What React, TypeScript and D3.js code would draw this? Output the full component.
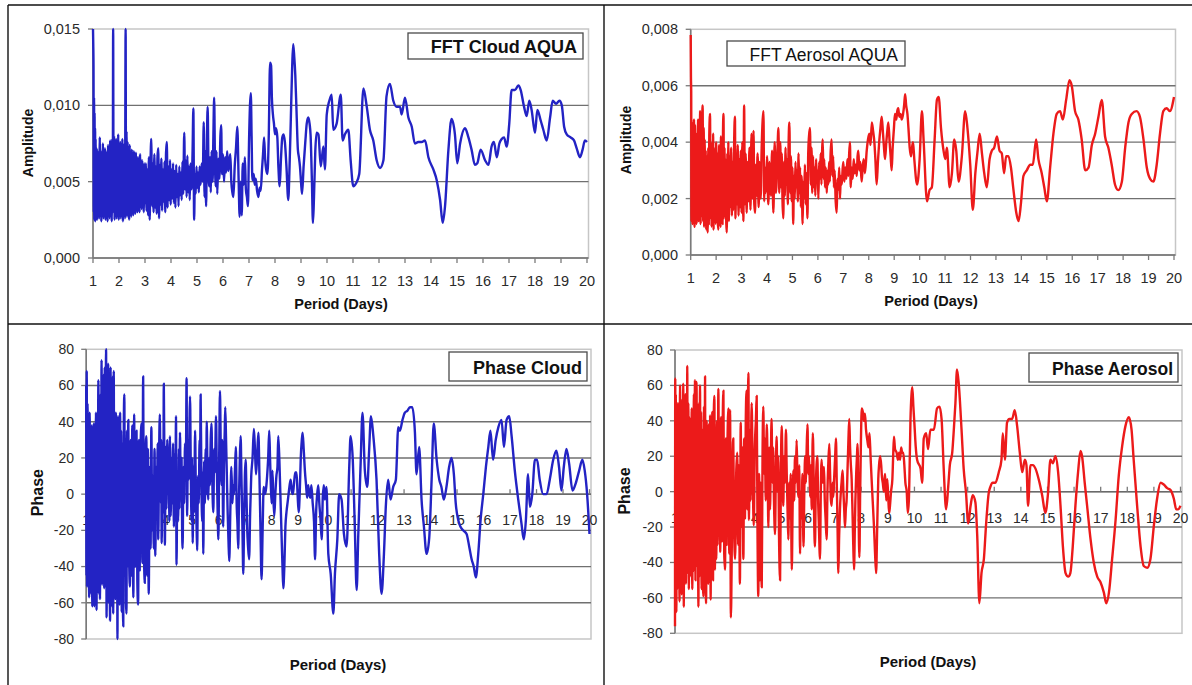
import React from "react";
import * as d3 from "d3";

type Pt = [number, number];

const periodTicks = [1, 2, 3, 4, 5, 6, 7, 8, 9, 10, 11, 12, 13, 14, 15, 16, 17, 18, 19, 20];
const cloudAmpTicks = [0, 0.005, 0.01, 0.015];
const aerosolAmpTicks = [0, 0.002, 0.004, 0.006, 0.008];
const phaseTicks = [-80, -60, -40, -20, 0, 20, 40, 60, 80];

// FFT amplitude, cloud (period in days, amplitude)
const cloudAmp: Pt[] = [
  [1, .015], [1.01, .014], [1.02, .0125], [1.03, .003], [1.04, .0105], [1.05, .0025], [1.06, .0095], [1.07, .003], [1.08, .0085], [1.09, .0024],
  [1.1, .0078], [1.12, .0028], [1.14, .0072], [1.16, .0025], [1.18, .007], [1.2, .003], [1.22, .0068], [1.24, .0026], [1.26, .0079], [1.28, .0031],
  [1.3, .0066], [1.32, .0024], [1.34, .007], [1.36, .0028], [1.38, .0075], [1.4, .0026], [1.42, .0068], [1.44, .0032], [1.46, .0072], [1.48, .0025],
  [1.5, .0066], [1.52, .0029], [1.54, .007], [1.56, .0024], [1.58, .0074], [1.6, .003], [1.62, .0068], [1.64, .0026], [1.66, .0077], [1.68, .0028],
  [1.7, .0072], [1.72, .0024], [1.74, .0078], [1.76, .003], [1.775, .015], [1.79, .0035], [1.81, .008], [1.83, .0025], [1.85, .0074], [1.87, .003],
  [1.89, .0078], [1.91, .0026], [1.93, .0072], [1.95, .0029], [1.97, .0081], [1.99, .0025], [2.01, .007], [2.03, .0031], [2.05, .0076], [2.07, .0026],
  [2.09, .0073], [2.11, .0028], [2.13, .0078], [2.15, .0024], [2.17, .007], [2.19, .003], [2.21, .0075], [2.23, .0026], [2.255, .015], [2.27, .003],
  [2.29, .0083], [2.31, .0027], [2.33, .0076], [2.35, .003], [2.37, .0072], [2.39, .0025], [2.41, .0074], [2.43, .0031], [2.45, .0068], [2.47, .0027],
  [2.49, .0071], [2.51, .0032], [2.53, .0067], [2.55, .0028], [2.57, .007], [2.59, .0033], [2.61, .0064], [2.63, .0029], [2.65, .0069], [2.67, .0034],
  [2.69, .0063], [2.71, .003], [2.73, .0066], [2.75, .0035], [2.77, .0062], [2.79, .003], [2.81, .0068], [2.83, .0036], [2.85, .006], [2.87, .0032],
  [2.89, .0064], [2.91, .0037], [2.93, .0058], [2.95, .003], [2.97, .0062], [3, .0036], [3.03, .0062], [3.06, .0031], [3.09, .0058], [3.12, .0028],
  [3.15, .0066], [3.18, .0025], [3.21, .006], [3.24, .0078], [3.27, .0034], [3.3, .0062], [3.33, .003], [3.36, .0068], [3.39, .0033], [3.42, .006],
  [3.45, .0029], [3.48, .0066], [3.51, .0072], [3.54, .0026], [3.57, .0061], [3.6, .0035], [3.63, .0065], [3.66, .0031], [3.69, .0058], [3.72, .0037],
  [3.75, .0063], [3.78, .003], [3.81, .0069], [3.84, .0076], [3.87, .0033], [3.9, .006], [3.93, .0038], [3.96, .0064], [3.99, .0035], [4.02, .0058],
  [4.05, .0039], [4.08, .0062], [4.11, .0036], [4.14, .0057], [4.17, .0033], [4.2, .0061], [4.23, .004], [4.26, .0055], [4.29, .0034], [4.32, .006],
  [4.35, .0041], [4.38, .0056], [4.41, .0038], [4.44, .0063], [4.47, .0042], [4.51, .0082], [4.54, .0045], [4.57, .0064], [4.6, .004], [4.63, .0067],
  [4.66, .0043], [4.69, .006], [4.72, .0038], [4.75, .0062], [4.79, .0045], [4.83, .007], [4.86, .0098], [4.89, .0025], [4.92, .0055], [4.95, .0042],
  [4.98, .006], [5.01, .0046], [5.04, .0056], [5.07, .0043], [5.1, .006], [5.14, .0048], [5.18, .0062], [5.22, .005], [5.26, .0089], [5.29, .004],
  [5.32, .007], [5.35, .0034], [5.38, .0075], [5.41, .0099], [5.44, .006], [5.47, .0047], [5.5, .0066], [5.53, .0043], [5.56, .007], [5.6, .005],
  [5.63, .008], [5.66, .0105], [5.69, .0065], [5.72, .0047], [5.75, .007], [5.78, .0042], [5.82, .0065], [5.86, .0052], [5.9, .008], [5.93, .0087],
  [5.96, .0055], [6, .0068], [6.04, .005], [6.08, .0066], [6.12, .0056], [6.16, .007], [6.2, .0057], [6.24, .0062], [6.28, .0068], [6.32, .005],
  [6.36, .0043], [6.4, .004], [6.45, .006], [6.5, .0072], [6.55, .0086], [6.6, .0052], [6.64, .0027], [6.68, .005], [6.72, .0028], [6.76, .0062],
  [6.8, .0048], [6.84, .0066], [6.88, .0045], [6.92, .004], [6.96, .0034], [7, .0075], [7.07, .0108], [7.1, .008], [7.13, .0051], [7.18, .0055],
  [7.22, .0048], [7.26, .0052], [7.31, .0044], [7.36, .004], [7.41, .0046], [7.45, .0044], [7.5, .0058], [7.54, .0068], [7.58, .0079], [7.62, .0065],
  [7.66, .0058], [7.71, .0055], [7.76, .008], [7.81, .0128], [7.85, .0126], [7.88, .0105], [7.92, .0094], [7.96, .0088], [8, .0081], [8.04, .0085],
  [8.09, .0079], [8.13, .006], [8.18, .0047], [8.23, .0065], [8.28, .0079], [8.33, .0081], [8.38, .0076], [8.44, .006], [8.51, .0038], [8.56, .006],
  [8.61, .0092], [8.66, .0125], [8.7, .014], [8.74, .0132], [8.78, .012], [8.83, .0095], [8.88, .0071], [8.92, .0066], [8.96, .006], [9, .005],
  [9.04, .0042], [9.1, .006], [9.17, .0077], [9.22, .0088], [9.28, .0092], [9.33, .0088], [9.37, .008], [9.42, .005], [9.46, .0023], [9.5, .004],
  [9.55, .007], [9.6, .0082], [9.67, .0081], [9.76, .006], [9.86, .0073], [9.92, .0058], [9.99, .0094], [10.09, .0103], [10.18, .0107], [10.24, .0084],
  [10.37, .0088], [10.53, .0107], [10.6, .0077], [10.69, .0081], [10.82, .0084], [10.91, .0064], [11.01, .0047], [11.12, .0049], [11.24, .0055], [11.4, .0111],
  [11.53, .0099], [11.65, .0084], [11.78, .0077], [11.91, .0064], [12.04, .0059], [12.17, .0064], [12.29, .0106], [12.42, .0114], [12.55, .0103], [12.68, .0099],
  [12.81, .0099], [12.87, .0094], [13, .0105], [13.13, .0092], [13.26, .0086], [13.38, .0075], [13.51, .0076], [13.64, .0076], [13.77, .0077], [13.9, .0066],
  [14.09, .0058], [14.22, .0051], [14.35, .0038], [14.45, .0023], [14.54, .0034], [14.67, .0071], [14.79, .0091], [14.92, .0081], [15.01, .0062], [15.12, .0075],
  [15.31, .0085], [15.44, .0079], [15.56, .0071], [15.69, .0061], [15.78, .0062], [15.91, .0071], [16.08, .0064], [16.21, .0061], [16.33, .0073], [16.42, .0076],
  [16.53, .0066], [16.63, .0075], [16.72, .0078], [16.81, .0079], [16.91, .0073], [17.01, .0088], [17.1, .011], [17.23, .011], [17.36, .0113], [17.45, .011],
  [17.58, .0099], [17.68, .0093], [17.78, .0103], [17.87, .0097], [18, .0082], [18.09, .0097], [18.22, .009], [18.32, .0084], [18.45, .0077], [18.58, .0092],
  [18.68, .0103], [18.81, .0101], [18.94, .0103], [19.03, .01], [19.12, .0086], [19.22, .0081], [19.37, .0079], [19.5, .0077], [19.6, .0072], [19.73, .0066],
  [19.83, .0071], [19.92, .0077], [20, .0076],
];

// FFT amplitude, aerosol
const aerosolAmp: Pt[] = [
  [1, .0078], [1.01, .0063], [1.02, .0058], [1.03, .0012], [1.05, .0047], [1.07, .0011], [1.09, .0045], [1.11, .0013], [1.13, .0048], [1.15, .001],
  [1.17, .0046], [1.19, .0014], [1.21, .0043], [1.23, .0011], [1.25, .004], [1.27, .0015], [1.29, .0048], [1.31, .0012], [1.33, .0044], [1.35, .0016],
  [1.37, .0051], [1.39, .0011], [1.41, .0042], [1.43, .0014], [1.45, .0047], [1.47, .0053], [1.49, .0012], [1.51, .0045], [1.53, .001], [1.55, .0041],
  [1.57, .0013], [1.59, .0037], [1.61, .0009], [1.63, .0035], [1.65, .0012], [1.67, .0008], [1.69, .0038], [1.71, .0011], [1.73, .0042], [1.76, .005],
  [1.78, .0013], [1.8, .004], [1.82, .001], [1.84, .0036], [1.86, .0014], [1.88, .0043], [1.9, .0009], [1.92, .0038], [1.94, .0013], [1.96, .0034],
  [1.98, .0011], [2, .004], [2.02, .0015], [2.04, .0036], [2.06, .0012], [2.09, .0009], [2.11, .0039], [2.13, .0013], [2.15, .0035], [2.17, .001],
  [2.19, .0042], [2.21, .0014], [2.23, .0037], [2.25, .0011], [2.27, .0044], [2.29, .005], [2.31, .0013], [2.33, .0038], [2.35, .0015], [2.37, .0034],
  [2.4, .0011], [2.42, .0008], [2.44, .0036], [2.46, .0016], [2.48, .004], [2.5, .0012], [2.53, .0035], [2.56, .0017], [2.59, .0038], [2.62, .0014],
  [2.65, .0033], [2.68, .0016], [2.71, .0041], [2.74, .0049], [2.76, .0013], [2.79, .0036], [2.82, .0018], [2.85, .0039], [2.88, .0014], [2.91, .0034],
  [2.94, .0017], [2.97, .0037], [3, .0015], [3.03, .004], [3.07, .0012], [3.1, .0053], [3.13, .0018], [3.16, .0036], [3.2, .0015], [3.23, .0033],
  [3.27, .0019], [3.31, .0038], [3.35, .0016], [3.39, .0043], [3.43, .002], [3.47, .0044], [3.5, .0018], [3.53, .0015], [3.56, .0032], [3.59, .0021],
  [3.63, .0036], [3.67, .0017], [3.71, .0033], [3.75, .002], [3.79, .0038], [3.83, .0048], [3.86, .0051], [3.89, .0019], [3.92, .0031], [3.95, .0022],
  [4, .0035], [4.05, .0018], [4.1, .0033], [4.15, .0021], [4.2, .0037], [4.25, .0015], [4.3, .004], [4.35, .0022], [4.4, .0034], [4.45, .0045],
  [4.48, .0022], [4.52, .004], [4.55, .0024], [4.58, .0036], [4.61, .0019], [4.64, .0013], [4.67, .0033], [4.7, .0021], [4.73, .0038], [4.76, .0025],
  [4.79, .0034], [4.82, .0018], [4.85, .004], [4.88, .0047], [4.91, .0022], [4.94, .0035], [4.97, .0019], [5, .0031], [5.03, .0011], [5.06, .0028],
  [5.09, .002], [5.12, .0033], [5.15, .0024], [5.18, .003], [5.21, .0019], [5.24, .0036], [5.27, .0022], [5.3, .0031], [5.33, .0017], [5.36, .0028],
  [5.4, .0011], [5.43, .0026], [5.46, .002], [5.49, .0032], [5.52, .0018], [5.55, .0029], [5.59, .0013], [5.62, .0036], [5.65, .0042], [5.69, .0045],
  [5.72, .0025], [5.75, .0038], [5.78, .0022], [5.81, .0035], [5.84, .0024], [5.87, .0031], [5.9, .0021], [5.93, .0034], [5.96, .0026], [5.99, .003],
  [6.02, .002], [6.05, .0033], [6.08, .0027], [6.11, .0036], [6.14, .0025], [6.17, .0038], [6.19, .0041], [6.22, .0027], [6.25, .0034], [6.28, .0024],
  [6.31, .0031], [6.35, .0022], [6.38, .003], [6.41, .0025], [6.44, .0033], [6.47, .0026], [6.5, .0036], [6.54, .0041], [6.57, .0028], [6.6, .0035],
  [6.63, .0024], [6.66, .003], [6.7, .0019], [6.74, .0015], [6.77, .0027], [6.8, .0023], [6.84, .0031], [6.87, .002], [6.9, .0028], [6.94, .0025],
  [6.97, .003], [7, .0033], [7.04, .0026], [7.08, .0031], [7.12, .0027], [7.16, .0034], [7.2, .0028], [7.23, .0036], [7.26, .004], [7.29, .0024],
  [7.33, .0031], [7.37, .0027], [7.41, .0034], [7.45, .0029], [7.49, .0032], [7.53, .0028], [7.56, .0035], [7.59, .0037], [7.63, .003], [7.67, .0033],
  [7.72, .0026], [7.76, .0031], [7.8, .0034], [7.85, .0029], [7.92, .0037], [7.97, .0041], [8.02, .0043], [8.07, .0039], [8.12, .0047], [8.17, .0044],
  [8.22, .004], [8.26, .0034], [8.31, .0025], [8.36, .0033], [8.41, .004], [8.46, .0045], [8.51, .0049], [8.56, .0043], [8.6, .0038], [8.64, .0034],
  [8.69, .004], [8.73, .0044], [8.77, .0047], [8.82, .004], [8.86, .0035], [8.9, .003], [8.94, .0038], [8.99, .0045], [9.03, .005], [9.08, .0048],
  [9.12, .0051], [9.16, .0052], [9.2, .0049], [9.25, .005], [9.3, .0048], [9.35, .005], [9.39, .0053], [9.43, .0057], [9.47, .0053], [9.52, .005],
  [9.56, .0045], [9.61, .0038], [9.66, .0035], [9.7, .0038], [9.74, .004], [9.79, .0034], [9.9, .0025], [10, .0034], [10.09, .0051], [10.16, .004],
  [10.29, .0019], [10.39, .0023], [10.48, .0024], [10.59, .0041], [10.68, .0055], [10.75, .0056], [10.84, .0045], [10.94, .0037], [11.01, .0034], [11.07, .0038],
  [11.18, .0024], [11.27, .0029], [11.36, .0041], [11.44, .0037], [11.53, .0026], [11.66, .0035], [11.79, .0051], [11.88, .0045], [11.99, .0032], [12.09, .0016],
  [12.19, .0029], [12.28, .0037], [12.36, .0043], [12.45, .0036], [12.54, .0029], [12.64, .0024], [12.75, .0034], [12.84, .0037], [12.93, .0038], [13.04, .0042],
  [13.14, .0037], [13.23, .0036], [13.32, .0029], [13.4, .0035], [13.49, .0035], [13.59, .0031], [13.69, .0023], [13.8, .0015], [13.89, .0012], [13.98, .0018],
  [14.08, .0028], [14.21, .003], [14.35, .0032], [14.45, .0032], [14.58, .0041], [14.67, .0034], [14.8, .0029], [14.9, .0024], [15, .0019], [15.13, .0031],
  [15.26, .0043], [15.39, .005], [15.52, .0051], [15.63, .0048], [15.76, .0055], [15.89, .0062], [15.98, .006], [16.11, .0051], [16.24, .0048], [16.37, .0041],
  [16.51, .003], [16.64, .0031], [16.77, .0039], [16.9, .0043], [17.03, .0049], [17.16, .0055], [17.29, .0042], [17.42, .0038], [17.55, .0032], [17.68, .0025],
  [17.81, .0023], [17.95, .0026], [18.08, .0038], [18.21, .0047], [18.34, .005], [18.53, .0051], [18.66, .0049], [18.8, .0041], [18.93, .0031], [19.06, .0027],
  [19.19, .0026], [19.32, .0032], [19.45, .0043], [19.58, .0051], [19.71, .0052], [19.84, .0051], [20, .0056],
];

// Phase, cloud
const cloudPhase: Pt[] = [
  [1, 60], [1.01, -45], [1.02, 68], [1.03, -51], [1.05, 50], [1.07, -30], [1.09, 40], [1.11, -57], [1.13, 45], [1.15, -40],
  [1.17, 30], [1.19, -55], [1.21, 38], [1.23, -62], [1.25, 25], [1.27, -45], [1.29, 39], [1.31, -62], [1.33, 30], [1.35, -50],
  [1.37, 45], [1.39, -64], [1.41, 35], [1.43, -48], [1.46, 63], [1.48, -55], [1.5, 40], [1.52, -58], [1.54, 55], [1.56, -42],
  [1.58, 74], [1.6, -50], [1.62, 58], [1.64, -35], [1.66, 66], [1.68, -52], [1.7, 70], [1.72, -45], [1.75, 80], [1.77, -68],
  [1.79, 62], [1.81, -55], [1.83, 72], [1.85, -60], [1.87, 55], [1.9, -70], [1.92, 70], [1.94, -48], [1.96, 50], [1.98, -62],
  [2, 65], [2.02, -66], [2.04, 68], [2.06, -50], [2.08, 40], [2.1, -58], [2.12, 45], [2.14, -45], [2.16, 38], [2.18, -80],
  [2.2, 43], [2.22, -52], [2.24, 30], [2.26, -61], [2.28, 45], [2.3, -40], [2.32, 35], [2.34, -65], [2.36, 28], [2.38, -50],
  [2.4, -73], [2.42, 40], [2.44, 55], [2.46, -45], [2.48, 30], [2.5, -60], [2.52, -66], [2.54, 35], [2.56, -40], [2.59, 41],
  [2.62, -35], [2.65, -51], [2.68, 30], [2.71, -45], [2.74, 38], [2.78, -57], [2.81, 44], [2.84, -40], [2.87, 28], [2.9, 35],
  [2.93, -48], [2.96, -61], [2.99, 30], [3.02, -42], [3.05, 25], [3.09, 39], [3.12, -38], [3.15, 65], [3.18, -30], [3.21, -49],
  [3.24, 20], [3.27, 32], [3.3, -45], [3.33, 25], [3.36, -55], [3.4, 15], [3.43, -30], [3.46, 37], [3.49, -20], [3.52, 10],
  [3.55, -30], [3.58, 25], [3.61, -34], [3.64, 15], [3.67, -10], [3.7, 28], [3.72, -25], [3.75, 20], [3.78, 44], [3.81, -5],
  [3.83, 30], [3.85, -27], [3.88, 15], [3.91, -10], [3.93, 61], [3.95, 20], [3.97, -28], [4, 26], [4.03, -8], [4.06, 30],
  [4.09, 0], [4.12, 24], [4.14, -15], [4.16, 32], [4.19, -12], [4.22, 20], [4.25, -5], [4.28, 28], [4.31, -18], [4.34, 22],
  [4.37, 5], [4.39, 43], [4.41, -39], [4.44, 10], [4.47, -15], [4.5, 25], [4.52, -8], [4.54, 34], [4.57, 0], [4.6, 20],
  [4.62, -18], [4.64, -30], [4.67, 15], [4.7, -5], [4.73, 28], [4.76, 10], [4.79, 64], [4.81, -12], [4.84, 30], [4.87, 8],
  [4.9, 40], [4.92, 54], [4.95, 10], [4.98, -15], [5, 20], [5.02, -27], [5.05, 15], [5.08, -10], [5.11, 35], [5.14, 0],
  [5.17, -20], [5.19, -31], [5.22, 10], [5.25, -5], [5.28, 30], [5.3, 20], [5.32, 55], [5.35, 5], [5.38, -15], [5.4, 12],
  [5.42, -33], [5.45, 18], [5.48, -5], [5.51, 25], [5.53, 0], [5.55, 40], [5.58, 10], [5.61, -3], [5.64, 20], [5.67, 5],
  [5.7, 30], [5.73, 39], [5.76, 8], [5.8, -10], [5.83, 25], [5.86, 12], [5.9, 43], [5.93, 15], [5.96, -8], [5.99, -25],
  [6.02, 20], [6.05, 57], [6.08, 25], [6.11, 5], [6.14, 30], [6.17, -18], [6.2, 15], [6.23, 35], [6.25, 48], [6.28, 30],
  [6.31, 10], [6.34, -10], [6.37, -25], [6.4, -37], [6.44, -10], [6.48, 15], [6.52, -5], [6.55, 5], [6.58, 0], [6.62, 15],
  [6.65, 26], [6.68, -5], [6.71, -16], [6.74, -30], [6.77, 0], [6.8, 20], [6.83, 32], [6.86, 10], [6.9, -20], [6.93, -44],
  [6.96, -15], [6.99, 10], [7.02, 19], [7.05, 0], [7.08, -20], [7.11, -29], [7.15, -36], [7.19, -10], [7.23, 10], [7.28, 20],
  [7.33, 36], [7.37, 25], [7.41, 11], [7.45, 20], [7.5, 34], [7.54, 10], [7.58, -20], [7.62, -47], [7.66, -20], [7.7, 4],
  [7.74, 0], [7.78, 2], [7.83, 10], [7.87, 20], [7.91, 35], [7.94, 20], [7.97, 5], [8, -5], [8.03, 13], [8.06, 0],
  [8.1, -12], [8.14, 0], [8.18, 10], [8.22, 15], [8.25, 32], [8.29, 20], [8.33, 0], [8.37, -20], [8.41, -40], [8.44, -52],
  [8.48, -40], [8.52, -18], [8.56, -10], [8.6, -5], [8.64, 0], [8.68, 5], [8.72, 8], [8.76, 2], [8.8, 0], [8.84, 5],
  [8.89, 12], [8.94, 12], [8.98, 0], [9.02, -10], [9.06, 0], [9.1, 20], [9.14, 30], [9.17, 34], [9.21, 25], [9.26, 12],
  [9.3, 5], [9.34, -2], [9.38, 5], [9.42, 0], [9.46, -2], [9.5, 5], [9.55, -5], [9.6, -15], [9.64, -36], [9.68, -10],
  [9.72, 0], [9.76, 5], [9.8, -5], [9.85, -15], [9.89, -25], [9.93, -2], [9.97, 5], [10.01, -3], [10.07, 4], [10.14, -33],
  [10.23, -44], [10.33, -66], [10.39, -44], [10.48, -25], [10.55, 0], [10.64, -3], [10.73, -22], [10.83, -29], [10.93, 15], [10.98, 32],
  [11.06, 20], [11.14, -18], [11.21, -53], [11.27, -23], [11.36, 17], [11.43, 45], [11.52, 13], [11.61, 4], [11.68, 24], [11.75, 43],
  [11.84, 32], [11.96, 8], [12.06, -33], [12.15, -55], [12.24, -33], [12.31, -7], [12.4, 8], [12.49, -3], [12.59, 4], [12.69, 8],
  [12.78, 37], [12.84, 35], [12.94, 41], [13.03, 45], [13.12, 46], [13.22, 48], [13.31, 48], [13.41, 34], [13.47, 11], [13.57, 26],
  [13.66, -3], [13.75, -18], [13.85, -33], [13.95, -24], [14.04, 8], [14.12, 39], [14.23, 19], [14.33, 8], [14.41, 4], [14.5, -3],
  [14.6, 4], [14.7, 15], [14.79, 20], [14.88, 11], [14.95, -5], [15.04, -14], [15.13, -18], [15.23, -20], [15.36, -22], [15.46, -29],
  [15.55, -36], [15.63, -40], [15.71, -46], [15.8, -33], [15.89, -14], [15.99, 0], [16.09, 15], [16.18, 26], [16.26, 35], [16.36, 19],
  [16.46, 30], [16.56, 37], [16.68, 41], [16.77, 26], [16.87, 41], [16.97, 43], [17.06, 32], [17.18, 13], [17.31, -3], [17.43, -16],
  [17.52, -25], [17.6, -14], [17.68, 11], [17.75, -7], [17.84, 0], [17.94, 19], [18.02, 19], [18.12, 8], [18.25, 0], [18.38, 0],
  [18.5, 8], [18.63, 19], [18.75, 24], [18.85, 15], [18.94, 2], [19.03, 15], [19.13, 25], [19.23, 17], [19.36, 2], [19.48, 6],
  [19.61, 13], [19.73, 19], [19.82, 13], [19.91, 0], [20, -22],
];

// Phase, aerosol
const aerosolPhase: Pt[] = [
  [1, -76], [1.01, 64], [1.02, -60], [1.03, 55], [1.05, -68], [1.07, 40], [1.09, -55], [1.11, 50], [1.13, -40], [1.15, 45],
  [1.17, -62], [1.19, 60], [1.21, -35], [1.23, 52], [1.25, -58], [1.27, 38], [1.29, -50], [1.31, 61], [1.33, -65], [1.35, 48],
  [1.37, -42], [1.39, 55], [1.41, -52], [1.43, 35], [1.45, -46], [1.46, 71], [1.48, -38], [1.5, 50], [1.52, -55], [1.54, 42],
  [1.56, -48], [1.58, 36], [1.6, -40], [1.63, 47], [1.65, -55], [1.67, 30], [1.69, -45], [1.71, 55], [1.73, -35], [1.75, 63],
  [1.77, -50], [1.79, 45], [1.81, 62], [1.83, -42], [1.85, 40], [1.88, -65], [1.9, 50], [1.92, -48], [1.94, 60], [1.96, -38],
  [1.98, 45], [2, -55], [2.02, 35], [2.04, -45], [2.07, -59], [2.09, 48], [2.11, -40], [2.13, 65], [2.15, -50], [2.17, -63],
  [2.19, 40], [2.21, -45], [2.23, 30], [2.25, -52], [2.27, 38], [2.3, -48], [2.32, 43], [2.34, -61], [2.36, 32], [2.38, -40],
  [2.4, 45], [2.43, -50], [2.45, 35], [2.48, 54], [2.5, -44], [2.52, 30], [2.55, -38], [2.58, 40], [2.6, -30], [2.63, 58],
  [2.66, -25], [2.68, 30], [2.7, -34], [2.73, 42], [2.76, -28], [2.79, 35], [2.82, 57], [2.85, -35], [2.88, -44], [2.91, 30],
  [2.94, -30], [2.97, 25], [3.01, 47], [3.04, -35], [3.07, 46], [3.1, -71], [3.13, -40], [3.16, 15], [3.19, 30], [3.22, -20],
  [3.26, -38], [3.3, 10], [3.34, 22], [3.37, -30], [3.4, 15], [3.44, -52], [3.47, 39], [3.5, -20], [3.53, 25], [3.57, -38],
  [3.6, 30], [3.63, -15], [3.66, 40], [3.69, 57], [3.72, -10], [3.74, 45], [3.76, 67], [3.78, -16], [3.81, 35], [3.84, -5],
  [3.88, 50], [3.92, 10], [3.96, -19], [4, 25], [4.04, 40], [4.07, 54], [4.1, -20], [4.13, -59], [4.16, 10], [4.19, -50],
  [4.22, 5], [4.26, -54], [4.29, 20], [4.32, 48], [4.35, 10], [4.38, 30], [4.41, -5], [4.45, 38], [4.48, 15], [4.51, -20],
  [4.54, 25], [4.57, -10], [4.6, 15], [4.63, 41], [4.66, 5], [4.69, 25], [4.72, -5], [4.76, -24], [4.79, 10], [4.82, 31],
  [4.85, 0], [4.88, 20], [4.91, -25], [4.95, -50], [4.98, 10], [5.01, 37], [5.04, 15], [5.07, -8], [5.1, 20], [5.13, 5],
  [5.17, 35], [5.2, 10], [5.23, -10], [5.26, -27], [5.29, 5], [5.32, -15], [5.35, 10], [5.39, -44], [5.42, -10], [5.45, 12],
  [5.48, -5], [5.51, 20], [5.54, 5], [5.57, 29], [5.6, 10], [5.64, -3], [5.67, 15], [5.7, -35], [5.73, 0], [5.76, -15],
  [5.79, 10], [5.83, -31], [5.86, 0], [5.89, 20], [5.92, 5], [5.95, 25], [5.98, 38], [6.01, 10], [6.04, 20], [6.08, -3],
  [6.11, 15], [6.14, -10], [6.18, 33], [6.21, 10], [6.23, -15], [6.26, -31], [6.29, 0], [6.32, 15], [6.35, 20], [6.38, -5],
  [6.41, -20], [6.45, -38], [6.48, 0], [6.51, 18], [6.55, 5], [6.6, 14], [6.63, -5], [6.66, -15], [6.7, -27], [6.73, 0],
  [6.76, 15], [6.8, 27], [6.83, 10], [6.86, -5], [6.89, -8], [6.92, 5], [6.95, -3], [6.98, 7], [7.02, 20], [7.05, 30],
  [7.08, 5], [7.11, -20], [7.14, -46], [7.17, -25], [7.2, -10], [7.23, -1], [7.26, 5], [7.3, 12], [7.33, 0], [7.36, -10],
  [7.39, -20], [7.42, -10], [7.45, -5], [7.49, 15], [7.52, 30], [7.55, 41], [7.58, 25], [7.61, 15], [7.64, 7], [7.67, -10],
  [7.7, -30], [7.73, -44], [7.76, -20], [7.78, -5], [7.81, 10], [7.84, 20], [7.86, 27], [7.89, 0], [7.93, -37], [7.96, 0],
  [7.99, 30], [8.02, 47], [8.06, 45], [8.1, 40], [8.14, 44], [8.18, 35], [8.23, 29], [8.27, 25], [8.31, 33], [8.35, 20],
  [8.39, 7], [8.43, -5], [8.48, -20], [8.52, -35], [8.56, -46], [8.6, -20], [8.64, 7], [8.67, 15], [8.71, 20], [8.75, 15],
  [8.78, 8], [8.81, 5], [8.85, 0], [8.88, 8], [8.9, 10], [8.94, -5], [8.98, 7], [9.02, -5], [9.05, -12], [9.08, -8],
  [9.12, 0], [9.17, 7], [9.2, 20], [9.23, 31], [9.27, 24], [9.33, 22], [9.38, 18], [9.42, 22], [9.46, 18], [9.5, 25],
  [9.54, 22], [9.58, 22], [9.62, 15], [9.66, 5], [9.71, 0], [9.75, -12], [9.79, -5], [9.82, 15], [9.85, 40], [9.89, 55],
  [9.92, 59], [9.96, 48], [10, 38], [10.05, 25], [10.1, 18], [10.23, 13], [10.29, 5], [10.35, 30], [10.44, 33], [10.51, 24],
  [10.6, 35], [10.73, 35], [10.85, 47], [10.94, 48], [11.02, 41], [11.1, 13], [11.19, -10], [11.27, 3], [11.33, 15], [11.42, 22],
  [11.48, 35], [11.54, 50], [11.6, 69], [11.67, 60], [11.77, 35], [11.85, 13], [11.94, -1], [12.02, -18], [12.11, -8], [12.19, -2],
  [12.29, -6], [12.36, -25], [12.44, -63], [12.52, -46], [12.61, -38], [12.69, -19], [12.79, -1], [12.86, 3], [12.94, 5], [13.04, 5],
  [13.17, 11], [13.27, 18], [13.32, 33], [13.4, 18], [13.48, 39], [13.57, 41], [13.67, 41], [13.77, 46], [13.86, 37], [13.96, 22],
  [14.05, 11], [14.15, 18], [14.21, 15], [14.27, -8], [14.36, 15], [14.45, 15], [14.55, 13], [14.67, 7], [14.8, -2], [14.92, -12],
  [15.02, -1], [15.11, 18], [15.2, 16], [15.3, 20], [15.4, 11], [15.49, -8], [15.58, -31], [15.68, -46], [15.78, -48], [15.86, -46],
  [15.95, -31], [16.05, -8], [16.15, 11], [16.24, 23], [16.3, 20], [16.4, 5], [16.49, -8], [16.62, -27], [16.74, -40], [16.87, -48],
  [16.99, -51], [17.12, -57], [17.21, -63], [17.31, -57], [17.43, -38], [17.56, -16], [17.68, 9], [17.81, 26], [17.93, 37], [18.06, 42],
  [18.16, 35], [18.24, 18], [18.37, -8], [18.5, -31], [18.62, -42], [18.75, -43], [18.87, -38], [19, -19], [19.12, -4], [19.25, 5],
  [19.37, 4], [19.5, 2], [19.62, 1], [19.75, -4], [19.84, -10], [19.91, -10], [20, -8],
];

const FONT = "'Liberation Sans', Arial, Helvetica, sans-serif";
const ampFmt = (v: number) => d3.format(".3f")(v).replace(".", ",");
const phaseFmt = (v: number) => String(v);

interface LegendCfg {
  x: number; y: number; w: number; h: number;
  text: string; bold: boolean; size: number; right: number; base: number;
}

interface PanelCfg {
  data: Pt[];
  color: string;
  yDomain: [number, number];
  yTicks: number[];
  fmt: (v: number) => string;
  left: number; right: number; top: number; bottom: number;
  yLabelX: number; tickSize: number; xLabelY: number; zeroAxis: boolean;
  yTitle: string; yTitleX: number; yTitleY: number; yTitleSize: number;
  xTitleX: number; xTitleY: number; xTitleSize: number;
  legend: LegendCfg;
}

function Panel(p: PanelCfg) {
  const x = d3.scaleLinear().domain([1, 20]).range([p.left, p.right]);
  const y = d3.scaleLinear().domain(p.yDomain).range([p.bottom, p.top]);
  const path = d3.line<Pt>().x(d => x(d[0])).y(d => y(d[1])).curve(d3.curveMonotoneX)(p.data) || "";
  const axisY = p.zeroAxis ? y(0) : p.bottom;
  const frameRight = p.right + 1.5;
  const inner = p.yTicks.filter(t => t !== p.yDomain[0] && t !== p.yDomain[1]);
  const lg = p.legend;

  return (
    <g fontFamily={FONT}>
      <rect x={p.left} y={p.top} width={frameRight - p.left} height={p.bottom - p.top}
        fill="#fff" stroke="#c6c6c6" strokeWidth={1.5} />
      {inner.map(t => (
        <line key={"g" + t} x1={p.left} x2={frameRight} y1={y(t)} y2={y(t)} stroke="#707070" strokeWidth={1.4} />
      ))}
      <line x1={p.left} x2={frameRight} y1={axisY} y2={axisY} stroke="#6a6a6a" strokeWidth={1.5} />
      <line x1={p.left} x2={p.left} y1={p.top} y2={p.bottom} stroke="#7a7a7a" strokeWidth={1.6} />
      {p.yTicks.map(t => (
        <line key={"yt" + t} x1={p.left - 5} x2={p.left} y1={y(t)} y2={y(t)} stroke="#7a7a7a" strokeWidth={1.3} />
      ))}
      {p.yTicks.map(t => (
        <text key={"yl" + t} x={p.yLabelX} y={y(t)} dy="0.35em" textAnchor="end"
          fontSize={p.tickSize} fill="#2a2a2a">{p.fmt(t)}</text>
      ))}
      {periodTicks.map(t => (
        <line key={"xt" + t} x1={x(t)} x2={x(t)}
          y1={p.zeroAxis ? axisY - 5 : axisY} y2={p.zeroAxis ? axisY : axisY + 5}
          stroke="#7a7a7a" strokeWidth={1.3} />
      ))}
      {periodTicks.map(t => (
        <text key={"xl" + t} x={x(t)} y={p.xLabelY} textAnchor="middle"
          fontSize={p.tickSize} fill="#2a2a2a">{t}</text>
      ))}
      <path d={path} fill="none" stroke={p.color} strokeWidth={2.4} strokeLinejoin="round" />
      <text transform={`translate(${p.yTitleX},${p.yTitleY}) rotate(-90)`} textAnchor="middle" dy="0.35em"
        fontSize={p.yTitleSize} fontWeight="bold" fill="#111">{p.yTitle}</text>
      <text x={p.xTitleX} y={p.xTitleY} textAnchor="middle" fontSize={p.xTitleSize}
        fontWeight="bold" fill="#111">Period (Days)</text>
      <rect x={lg.x} y={lg.y} width={lg.w} height={lg.h} fill="#fff" stroke="#4a4a4a" strokeWidth={1.3} />
      <text x={lg.right} y={lg.base} textAnchor="end" fontSize={lg.size}
        fontWeight={lg.bold ? "bold" : "normal"} fill="#111">{lg.text}</text>
    </g>
  );
}

const panels: PanelCfg[] = [
  {
    data: cloudAmp, color: "#2323c4", yDomain: [0, 0.015], yTicks: cloudAmpTicks, fmt: ampFmt,
    left: 93, right: 587, top: 29, bottom: 258,
    yLabelX: 80, tickSize: 14.5, xLabelY: 286, zeroAxis: false,
    yTitle: "Amplitude", yTitleX: 28, yTitleY: 143, yTitleSize: 14,
    xTitleX: 341, xTitleY: 309, xTitleSize: 14.5,
    legend: { x: 408, y: 33, w: 175, h: 26, text: "FFT Cloud AQUA", bold: true, size: 18, right: 577, base: 53 },
  },
  {
    data: aerosolAmp, color: "#ec1a1a", yDomain: [0, 0.008], yTicks: aerosolAmpTicks, fmt: ampFmt,
    left: 690.7, right: 1174, top: 29.3, bottom: 255,
    yLabelX: 678, tickSize: 14.5, xLabelY: 283, zeroAxis: false,
    yTitle: "Amplitude", yTitleX: 626, yTitleY: 140, yTitleSize: 14,
    xTitleX: 931, xTitleY: 306, xTitleSize: 14.5,
    legend: { x: 727, y: 41, w: 178, h: 25, text: "FFT Aerosol AQUA", bold: false, size: 17.5, right: 898, base: 61 },
  },
  {
    data: cloudPhase, color: "#2323c4", yDomain: [-80, 80], yTicks: phaseTicks, fmt: phaseFmt,
    left: 86.2, right: 589.5, top: 349.3, bottom: 639,
    yLabelX: 74, tickSize: 14, xLabelY: 525, zeroAxis: true,
    yTitle: "Phase", yTitleX: 37.5, yTitleY: 492.6, yTitleSize: 16,
    xTitleX: 338, xTitleY: 670, xTitleSize: 15,
    legend: { x: 449, y: 352, w: 138, h: 29, text: "Phase Cloud", bold: true, size: 18, right: 582, base: 374 },
  },
  {
    data: aerosolPhase, color: "#ec1a1a", yDomain: [-80, 80], yTicks: phaseTicks, fmt: phaseFmt,
    left: 675, right: 1180.5, top: 350, bottom: 633.3,
    yLabelX: 662.7, tickSize: 14, xLabelY: 523, zeroAxis: true,
    yTitle: "Phase", yTitleX: 624, yTitleY: 491, yTitleSize: 16,
    xTitleX: 928, xTitleY: 667, xTitleSize: 15,
    legend: { x: 1029, y: 353, w: 149, h: 29, text: "Phase Aerosol", bold: true, size: 17.5, right: 1173, base: 375 },
  },
];

export default function App() {
  return (
    <svg width={1192} height={685} style={{ position: "absolute", left: 0, top: 0, background: "#fff" }}>
      <rect width={1192} height={685} fill="#fff" />
      {panels.map((p, i) => <Panel key={i} {...p} />)}
      {/* table borders */}
      <g stroke="#111" strokeWidth={1.4}>
        <line x1={8} x2={1192} y1={5} y2={5} />
        <line x1={8} x2={8} y1={5} y2={685} />
        <line x1={604} x2={604} y1={5} y2={685} />
        <line x1={8} x2={1192} y1={324} y2={324} />
      </g>
    </svg>
  );
}
